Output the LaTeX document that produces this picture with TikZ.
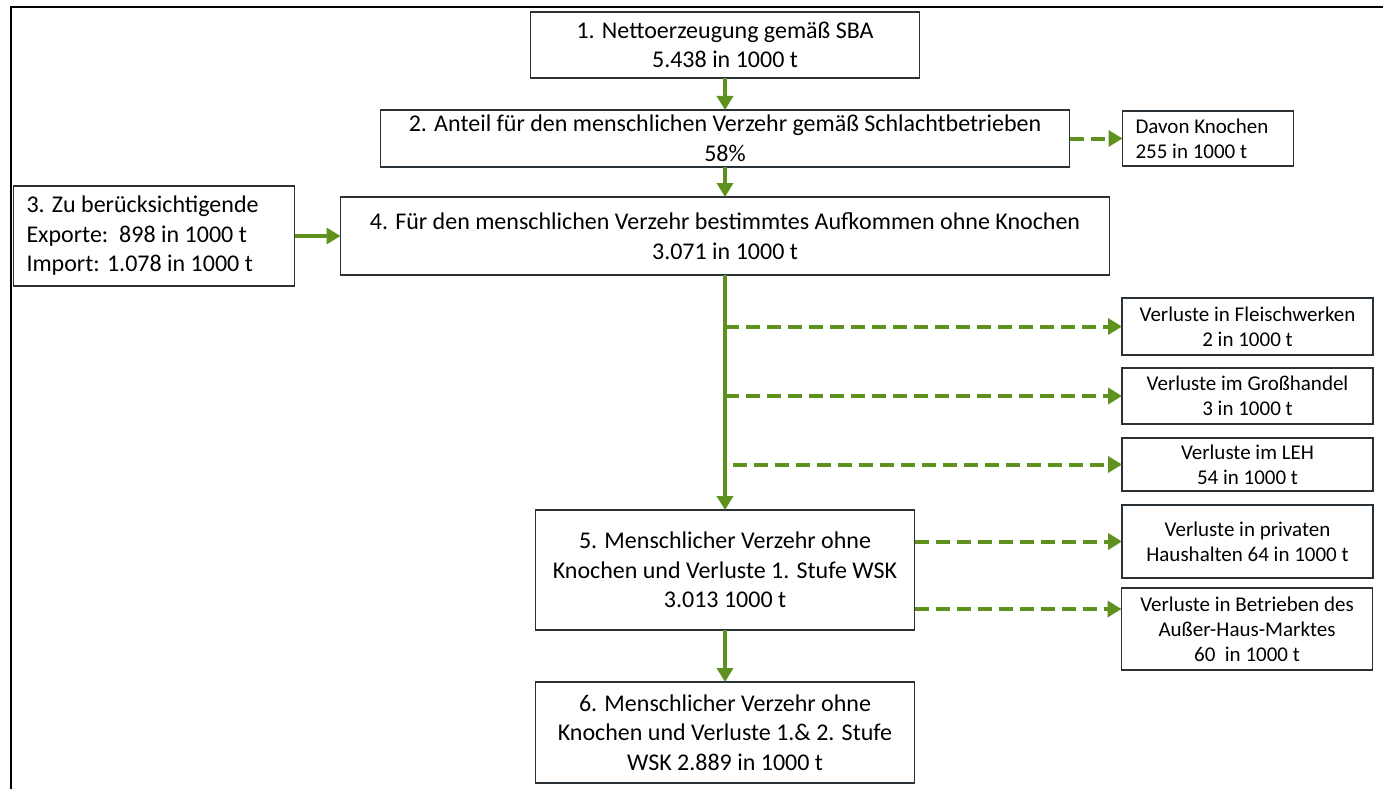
\documentclass[tikz,border=0pt]{standalone}
\usepackage{fontspec}
\setmainfont{Carlito}
\usepackage{xcolor}
\usepackage{tikz}
\usetikzlibrary{arrows.meta,positioning}

\definecolor{flow}{RGB}{95,145,30}
\definecolor{boxline}{RGB}{42,50,56}

\begin{document}
\begin{tikzpicture}[
  x=1pt, y=-1pt,
  node distance=30pt and 46pt,
  box/.style={draw=boxline, line width=1.8pt, align=center, inner sep=0pt,
              outer sep=0pt, font=\fontsize{24}{29.5}\selectfont},
  loss/.style={draw=boxline, line width=1.8pt, align=center, inner sep=0pt,
               outer sep=0pt, minimum width=251pt, font=\fontsize{21}{25}\selectfont},
  arrow/.style={-{Triangle[length=14pt,width=16pt]}, line width=4pt, draw=flow},
  dasharrow/.style={arrow, dash pattern=on 14pt off 7pt}
]
\useasboundingbox (0,0) rectangle (1383,789);
\draw[line width=1.8pt] (11,789) -- (11,7) -- (1383,7);

% main chain
\node[box, minimum width=389pt, minimum height=66pt] (netto) at (725,45)
  {1. Nettoerzeugung gemäß SBA\\5.438 in 1000 t};
\node[box, minimum width=689pt, minimum height=57pt, below=32pt of netto] (anteil)
  {2. Anteil für den menschlichen Verzehr gemäß Schlachtbetrieben\\58\%};
\node[box, minimum width=769pt, minimum height=78pt, below=30pt of anteil] (aufk)
  {4. Für den menschlichen Verzehr bestimmtes Aufkommen ohne Knochen\\3.071 in 1000 t};
\node[box, align=flush left, text width=255pt, minimum height=100pt, inner xsep=13pt,
      left=46pt of aufk] (handel)
  {3. Zu berücksichtigende\\Exporte:\ \ 898 in 1000 t\\Import: 1.078 in 1000 t};
\node[loss, align=flush left, minimum width=171pt, text width=145pt, inner xsep=13pt,
      minimum height=55pt, right=53pt of anteil] (knochen)
  {Davon Knochen\\255 in 1000 t};
\node[box, minimum width=379pt, minimum height=120pt, below=235pt of aufk] (stufe1)
  {5. Menschlicher Verzehr ohne\\Knochen und Verluste 1. Stufe WSK\\3.013 1000 t};
\node[box, minimum width=379pt, minimum height=101pt, below=52pt of stufe1] (stufe2)
  {6. Menschlicher Verzehr ohne\\Knochen und Verluste 1.\& 2. Stufe\\WSK 2.889 in 1000 t};

% losses
\node[loss, minimum height=57pt] (fleisch) at (1247.5,326.5)
  {Verluste in Fleischwerken\\2 in 1000 t};
\node[loss, minimum height=56pt] (gross) at (1247.5,396)
  {Verluste im Großhandel\\3 in 1000 t};
\node[loss, minimum height=53pt] (leh) at (1247.5,464.5)
  {Verluste im LEH\\54 in 1000 t};
\node[loss, minimum height=73pt] (haushalt) at (1247.5,541.5)
  {Verluste in privaten\\Haushalten 64 in 1000 t};
\node[loss, minimum height=82pt] (ahm) at (1247,629)
  {Verluste in Betrieben des\\Außer-Haus-Marktes\\60\ \ in 1000 t};
\coordinate (ahmin) at ([yshift=20pt]ahm.west);
\coordinate (lehout) at ([xshift=8pt]aufk.south);

\draw[arrow] (netto) -- (anteil);
\draw[arrow] (anteil) -- (aufk);
\draw[arrow] (handel) -- (aufk);
\draw[dasharrow] (anteil) -- (knochen);
\draw[arrow] (aufk) -- (stufe1);
\draw[dasharrow] (aufk.south |- fleisch.west) -- (fleisch.west);
\draw[dasharrow] (aufk.south |- gross.west) -- (gross.west);
\draw[dasharrow] (lehout |- leh.west) -- (leh.west);
\draw[dasharrow] (stufe1.east |- haushalt.west) -- (haushalt.west);
\draw[dasharrow] (stufe1.east |- ahmin) -- (ahmin);
\draw[arrow] (stufe1) -- (stufe2);
\end{tikzpicture}
\end{document}
